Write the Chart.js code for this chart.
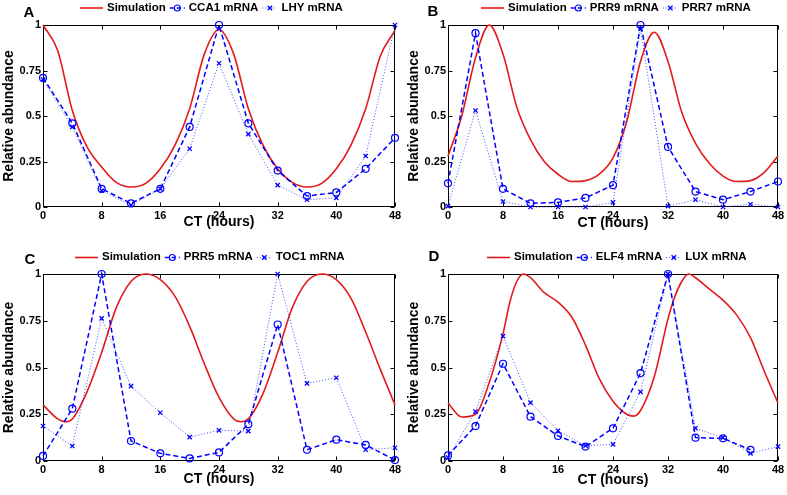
<!DOCTYPE html>
<html><head><meta charset="utf-8">
<script src="https://cdn.jsdelivr.net/npm/chart.js@4/dist/chart.umd.min.js"></script>
<style>
html,body{margin:0;padding:0;background:#fff;}
body{width:787px;height:495px;position:relative;overflow:hidden;}
canvas{position:absolute;}
</style></head><body>
<canvas id="cA" width="405" height="245" style="left:0;top:0"></canvas>
<canvas id="cB" width="389" height="245" style="left:398px;top:0"></canvas>
<canvas id="cC" width="405" height="250" style="left:0;top:245px"></canvas>
<canvas id="cD" width="389" height="250" style="left:398px;top:245px"></canvas>
<script>
// ---- data ----
const obsHours = [0,4,8,12,16,20,24,28,32,36,40,44,48];
const simHours = [0,2,4,6,8,10,12,14,16,18,20,22,24,26,28,30,32,34,36,38,40,42,44,46,48];
const simHoursC = [0,2,3,4,6,8,10,12,14,16,18,20,22,24,26,27,28,30,32,34,36,38,40,42,44,46,48];
const simHoursD = [0,2,4,6,8,9,10,11,12,14,16,18,20,22,24,26,27,28,30,32,33,34,35,36,38,40,42,44,46,48];
const xTickValues = [0,8,16,24,32,40,48];
const xTickLabels = ['0','8','16','24','32','40','48'];
const yTickValues = [0,0.25,0.5,0.75,1];
const yTickLabels = ['0','0.25','0.5','0.75','1'];

const simA = [1.0,0.86,0.53,0.33,0.22,0.135,0.11,0.13,0.21,0.34,0.54,0.84,0.975,0.84,0.54,0.34,0.21,0.135,0.11,0.13,0.21,0.34,0.54,0.83,0.97];
const cca1 = [0.71,0.46,0.10,0.02,0.10,0.44,1.0,0.46,0.20,0.06,0.08,0.21,0.38];
const lhy  = [0.70,0.44,0.09,0.01,0.10,0.32,0.79,0.40,0.12,0.04,0.05,0.28,1.0];

const simB = [0.28,0.50,0.82,1.0,0.84,0.55,0.37,0.25,0.18,0.14,0.145,0.18,0.27,0.47,0.80,0.96,0.80,0.52,0.35,0.24,0.17,0.14,0.145,0.19,0.28];
const prr9 = [0.13,0.955,0.10,0.02,0.025,0.05,0.12,1.0,0.33,0.085,0.04,0.085,0.14];
const prr7 = [0.005,0.53,0.03,0.0,0.0,0.0,0.025,0.98,0.005,0.04,0.0,0.015,0.0];

const simC = [0.30,0.225,0.21,0.225,0.37,0.58,0.82,0.96,1.0,0.97,0.88,0.72,0.52,0.34,0.225,0.21,0.225,0.36,0.58,0.82,0.96,1.0,0.97,0.87,0.69,0.49,0.30];
const prr5 = [0.027,0.28,1.0,0.107,0.041,0.014,0.046,0.196,0.73,0.06,0.114,0.086,0.005];
const toc1 = [0.187,0.08,0.763,0.40,0.258,0.128,0.164,0.16,1.0,0.415,0.445,0.06,0.071];

const simD = [0.31,0.235,0.25,0.42,0.68,0.85,0.96,1.0,0.98,0.90,0.85,0.77,0.62,0.44,0.32,0.25,0.24,0.27,0.45,0.76,0.88,0.96,1.0,0.98,0.92,0.86,0.78,0.66,0.48,0.31];
const elf4 = [0.03,0.187,0.52,0.237,0.134,0.077,0.175,0.47,1.0,0.125,0.121,0.06,null];
const lux  = [0.018,0.264,0.668,0.312,0.162,0.082,0.089,0.37,1.0,0.175,0.125,0.041,0.077];

// ---- styling ----
const FONT = '"Liberation Sans", Arial, Helvetica, sans-serif';
const RED = '#e31a1c';
const BLUE = '#0000ff';
const DOT = 'rgba(30,30,255,0.8)';
Chart.defaults.font.family = FONT;
Chart.defaults.color = '#000';

function pts(xs, ys){ return xs.map((x,i)=>({x:x, y:ys[i]})); }

const framePlugin = {
  id: 'frame',
  beforeDatasetsDraw(chart){
    const {ctx, chartArea:a} = chart;
    const xs = chart.scales.x, ys = chart.scales.y;
    ctx.save();
    ctx.strokeStyle = '#000'; ctx.lineWidth = 1;
    const L = Math.round(a.left)+0.5, T = Math.round(a.top)+0.5, R = Math.round(a.right)-0.5, B = Math.round(a.bottom)-0.5;
    ctx.strokeRect(L, T, R-L, B-T);
    const tl = 4;
    ctx.beginPath();
    xs.ticks.forEach(t=>{ const px = Math.round(xs.getPixelForValue(t.value))+0.5;
      ctx.moveTo(px,B); ctx.lineTo(px,B-tl); ctx.moveTo(px,T); ctx.lineTo(px,T+tl); });
    ys.ticks.forEach(t=>{ const py = Math.round(ys.getPixelForValue(t.value))+0.5;
      ctx.moveTo(L,py); ctx.lineTo(L+tl,py); ctx.moveTo(R,py); ctx.lineTo(R-tl,py); });
    ctx.stroke();
    ctx.restore();
  },
  afterDraw(chart, args, o){
    const ctx = chart.ctx;
    ctx.save();
    ctx.fillStyle = '#000';
    ctx.font = 'bold 15px ' + FONT;
    ctx.textAlign = 'center'; ctx.textBaseline = 'middle';
    ctx.fillText(o.letter, o.letterX, o.letterY);
    ctx.font = 'bold 11.5px ' + FONT;
    ctx.textAlign = 'left';
    let x = o.legendX; const y = o.legendY;
    chart.data.datasets.forEach((ds, i)=>{
      const sw = i === 0 ? 23 : 15;
      ctx.save();
      ctx.strokeStyle = ds.borderColor; ctx.lineWidth = ds.borderWidth;
      ctx.setLineDash(i === 0 ? [] : (i === 1 ? [4,3] : [1,2]));
      ctx.beginPath(); ctx.moveTo(x, y+0.5); ctx.lineTo(x+sw, y+0.5); ctx.stroke();
      ctx.setLineDash([]);
      if (ds.pointRadius > 0){
        const cx = x + sw/2;
        ctx.strokeStyle = ds.pointBorderColor; ctx.lineWidth = ds.pointBorderWidth;
        ctx.beginPath();
        if (ds.pointStyle === 'circle'){ ctx.arc(cx, y+0.5, 3, 0, Math.PI*2); }
        else { const r = 2.2; ctx.moveTo(cx-r,y-r+0.5); ctx.lineTo(cx+r,y+r+0.5); ctx.moveTo(cx+r,y-r+0.5); ctx.lineTo(cx-r,y+r+0.5); }
        ctx.stroke();
      }
      ctx.restore();
      x += sw + 4;
      ctx.fillStyle = '#000';
      ctx.fillText(ds.label, x, y);
      x += ctx.measureText(ds.label).width + 4;
    });
    ctx.restore();
  }
};

const panels = [
  {id:'cA', letter:'A', letterX:29, letterY:13.3, legendX:80, legendY:7.5, w:405, h:245,
   area:{l:43, t:25, r:395, b:207}, yTitleC:9.2, xTitleC:222,
   names:['Simulation','CCA1 mRNA','LHY mRNA'], simX:simHours, sim:simA, s1:cca1, s2:lhy},
  {id:'cB', letter:'B', letterX:35, letterY:11.7, legendX:83, legendY:7.5, w:389, h:245,
   area:{l:50, t:25, r:380, b:207}, yTitleC:16, xTitleC:223,
   names:['Simulation','PRR9 mRNA','PRR7 mRNA'], simX:simHours, sim:simB, s1:prr9, s2:prr7},
  {id:'cC', letter:'C', letterX:30, letterY:15, legendX:75, legendY:12, w:405, h:250,
   area:{l:43, t:29, r:395, b:216}, yTitleC:9.2, xTitleC:234.5,
   names:['Simulation','PRR5 mRNA','TOC1 mRNA'], simX:simHoursC, sim:simC, s1:prr5, s2:toc1},
  {id:'cD', letter:'D', letterX:36, letterY:12, legendX:89, legendY:12, w:389, h:250,
   area:{l:50, t:29, r:380, b:216}, yTitleC:16, xTitleC:235,
   names:['Simulation','ELF4 mRNA','LUX mRNA'], simX:simHoursD, sim:simD, s1:elf4, s2:lux}
];

panels.forEach(p=>{
  const lh = 14*1.2;
  new Chart(document.getElementById(p.id), {
    type:'line',
    data:{ datasets:[
      {label:p.names[0], data:pts(p.simX, p.sim), borderColor:RED, borderWidth:1.6, pointRadius:0,
       cubicInterpolationMode:'monotone', fill:false, clip:false, order:3},
      {label:p.names[1], data:pts(obsHours, p.s1), borderColor:BLUE, borderWidth:1.5, borderDash:[5,3],
       pointStyle:'circle', pointRadius:3.5, pointBorderColor:BLUE, pointBackgroundColor:'rgba(0,0,0,0)',
       pointBorderWidth:1.2, tension:0, fill:false, clip:false, order:2},
      {label:p.names[2], data:pts(obsHours, p.s2), borderColor:DOT, borderWidth:1, borderDash:[1,2],
       pointStyle:'crossRot', pointRadius:3, pointBorderColor:BLUE, pointBackgroundColor:BLUE,
       pointBorderWidth:1.3, tension:0, fill:false, clip:false, order:1}
    ]},
    options:{
      responsive:false, animation:false, devicePixelRatio:1,
      layout:{ padding:{ left:0, top:p.area.t, right:p.w - p.area.r, bottom:0 } },
      plugins:{ legend:{display:false}, tooltip:{enabled:false},
        frame:{ letter:p.letter, letterX:p.letterX, letterY:p.letterY, legendX:p.legendX, legendY:p.legendY } },
      scales:{
        x:{ type:'linear', min:0, max:48,
          grid:{display:false, drawTicks:false}, border:{display:false},
          afterBuildTicks: s=>{ s.ticks = xTickValues.map(v=>({value:v})); },
          afterFit: s=>{ s.height = p.h - p.area.b; },
          ticks:{ autoSkip:false, maxRotation:0, padding:2, color:'#000', font:{size:11, weight:'bold'},
                  callback:(v,i)=>xTickLabels[i] },
          title:{ display:true, text:'CT (hours)', color:'#000', font:{size:14, weight:'bold'},
                  padding:{top:0, bottom: p.h - p.xTitleC - lh/2} } },
        y:{ type:'linear', min:0, max:1,
          grid:{display:false, drawTicks:false}, border:{display:false},
          afterBuildTicks: s=>{ s.ticks = yTickValues.map(v=>({value:v})); },
          afterFit: s=>{ s.width = p.area.l; },
          ticks:{ autoSkip:false, padding:2, color:'#000', font:{size:11, weight:'bold'},
                  callback:(v,i)=>yTickLabels[i] },
          title:{ display:true, text:'Relative abundance', color:'#000', font:{size:14, weight:'bold'},
                  padding:{top: p.yTitleC - lh/2, bottom:0} } }
      }
    },
    plugins:[framePlugin]
  });
});
</script>
</body></html>
